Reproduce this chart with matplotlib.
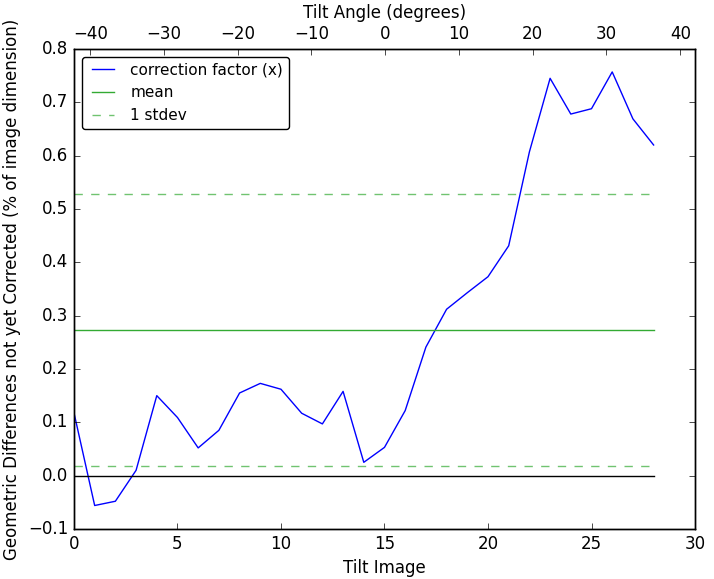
import numpy as np
import matplotlib
matplotlib.use('Agg')
import matplotlib.pyplot as plt

plt.style.use('classic')

# correction factor per tilt image
tilt_image = np.arange(29)
correction = [0.118, -0.056, -0.048, 0.010, 0.150, 0.109, 0.052, 0.085, 0.155,
              0.173, 0.162, 0.117, 0.097, 0.158, 0.025, 0.053, 0.122, 0.241,
              0.312, 0.343, 0.373, 0.431, 0.607, 0.745, 0.678, 0.688, 0.757,
              0.669, 0.620]
mean_val = 0.274
std_val = 0.255

fig = plt.figure(figsize=(7.14, 5.79), dpi=100, facecolor='white')
ax = fig.add_axes([0.1036, 0.0864, 0.8698, 0.829])

ax.plot(tilt_image, correction, color='b', label='correction factor (x)')
ax.plot([0, 28], [mean_val, mean_val], color='#33aa33', label='mean')
ax.plot([0, 28], [mean_val + std_val] * 2, color='#33aa33', ls='--', alpha=0.7, label='1 stdev')
ax.plot([0, 28], [mean_val - std_val] * 2, color='#33aa33', ls='--', alpha=0.7)
ax.plot([0, 28], [0, 0], color='k')

ax.set_xlim(0, 30)
ax.set_ylim(-0.1, 0.8)
ax.set_xlabel('Tilt Image')
ax.set_ylabel('Geometric Differences not yet Corrected (% of image dimension)')
ax.legend(loc='upper left', fontsize=11, fancybox=True)

ax2 = ax.twiny()
ax2.set_xlim(-42.2, 42.0)
ax2.set_xticks(np.arange(-40, 41, 10))
ax2.set_xlabel('Tilt Angle (degrees)')

fig.savefig('out.png', dpi=100, facecolor='white')
